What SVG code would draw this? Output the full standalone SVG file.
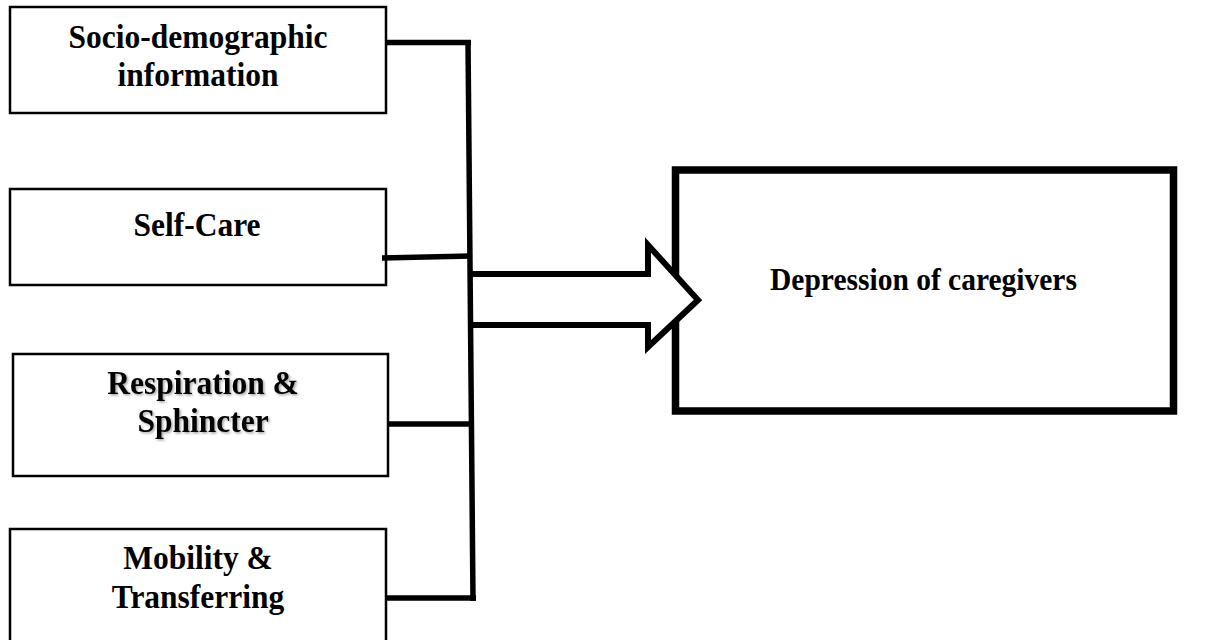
<svg xmlns="http://www.w3.org/2000/svg" width="1229" height="640" viewBox="0 0 1229 640">
  <style>
    .box { fill: #fff; stroke: #000; stroke-width: 2.5; }
    .bigbox { fill: #fff; stroke: #000; stroke-width: 7.5; }
    .lbl { font-family: "Liberation Serif", "Times New Roman", serif; font-weight: bold; font-size: 31.5px; fill: #000; text-anchor: middle; }
    .lbl2 { font-family: "Liberation Serif", "Times New Roman", serif; font-weight: bold; font-size: 29.5px; fill: #000; text-anchor: middle; }
    .conn { fill: none; stroke: #000; stroke-width: 5.5; stroke-linecap: butt; }
    .arrow { fill: #fff; stroke: #000; stroke-width: 6; stroke-linejoin: miter; stroke-miterlimit: 10; }
  </style>
  <defs>
    <filter id="shadow" x="-10%" y="-30%" width="120%" height="160%">
      <feDropShadow dx="1.5" dy="1.5" stdDeviation="1" flood-color="#000" flood-opacity="0.35"/>
    </filter>
  </defs>
  <rect width="1229" height="640" fill="#fff"/>

  <g id="node-socio">
    <rect class="box" x="10" y="7" width="376" height="106"/>
    <text class="lbl" transform="matrix(1,0,0,1.09,198,48)">Socio-demographic</text>
    <text class="lbl" transform="matrix(1,0,0,1.09,198,86)">information</text>
  </g>

  <g id="node-selfcare">
    <rect class="box" x="10" y="189" width="376" height="96"/>
    <text class="lbl" transform="matrix(1,0,0,1.09,197,236)">Self-Care</text>
  </g>

  <g id="node-respiration">
    <rect class="box" x="13" y="354" width="375" height="122"/>
    <g filter="url(#shadow)">
      <text class="lbl" transform="matrix(1,0,0,1.09,203,394)">Respiration &amp;</text>
      <text class="lbl" transform="matrix(1,0,0,1.09,203,432)">Sphincter</text>
    </g>
  </g>

  <g id="node-mobility">
    <rect class="box" x="10" y="529" width="376" height="130"/>
    <text class="lbl" transform="matrix(1,0,0,1.09,198,569)">Mobility &amp;</text>
    <text class="lbl" transform="matrix(1,0,0,1.09,198,608)">Transferring</text>
  </g>

  <g id="node-depression">
    <rect class="bigbox" x="675.5" y="170" width="498" height="241"/>
    <text class="lbl2" transform="matrix(1,0,0,1.1,923.5,290)">Depression of caregivers</text>
  </g>

  <g id="connectors">
    <path class="arrow" d="M470,274 H648 V245 L698,300 L648,347 V325 H470"/>
    <path class="conn" d="M386,42.5 H471"/>
    <path class="conn" d="M468,40 L473,601"/>
    <path class="conn" d="M382,258 L471,256"/>
    <path class="conn" d="M388,424 H472"/>
    <path class="conn" d="M386,598 H476"/>
  </g>
</svg>
